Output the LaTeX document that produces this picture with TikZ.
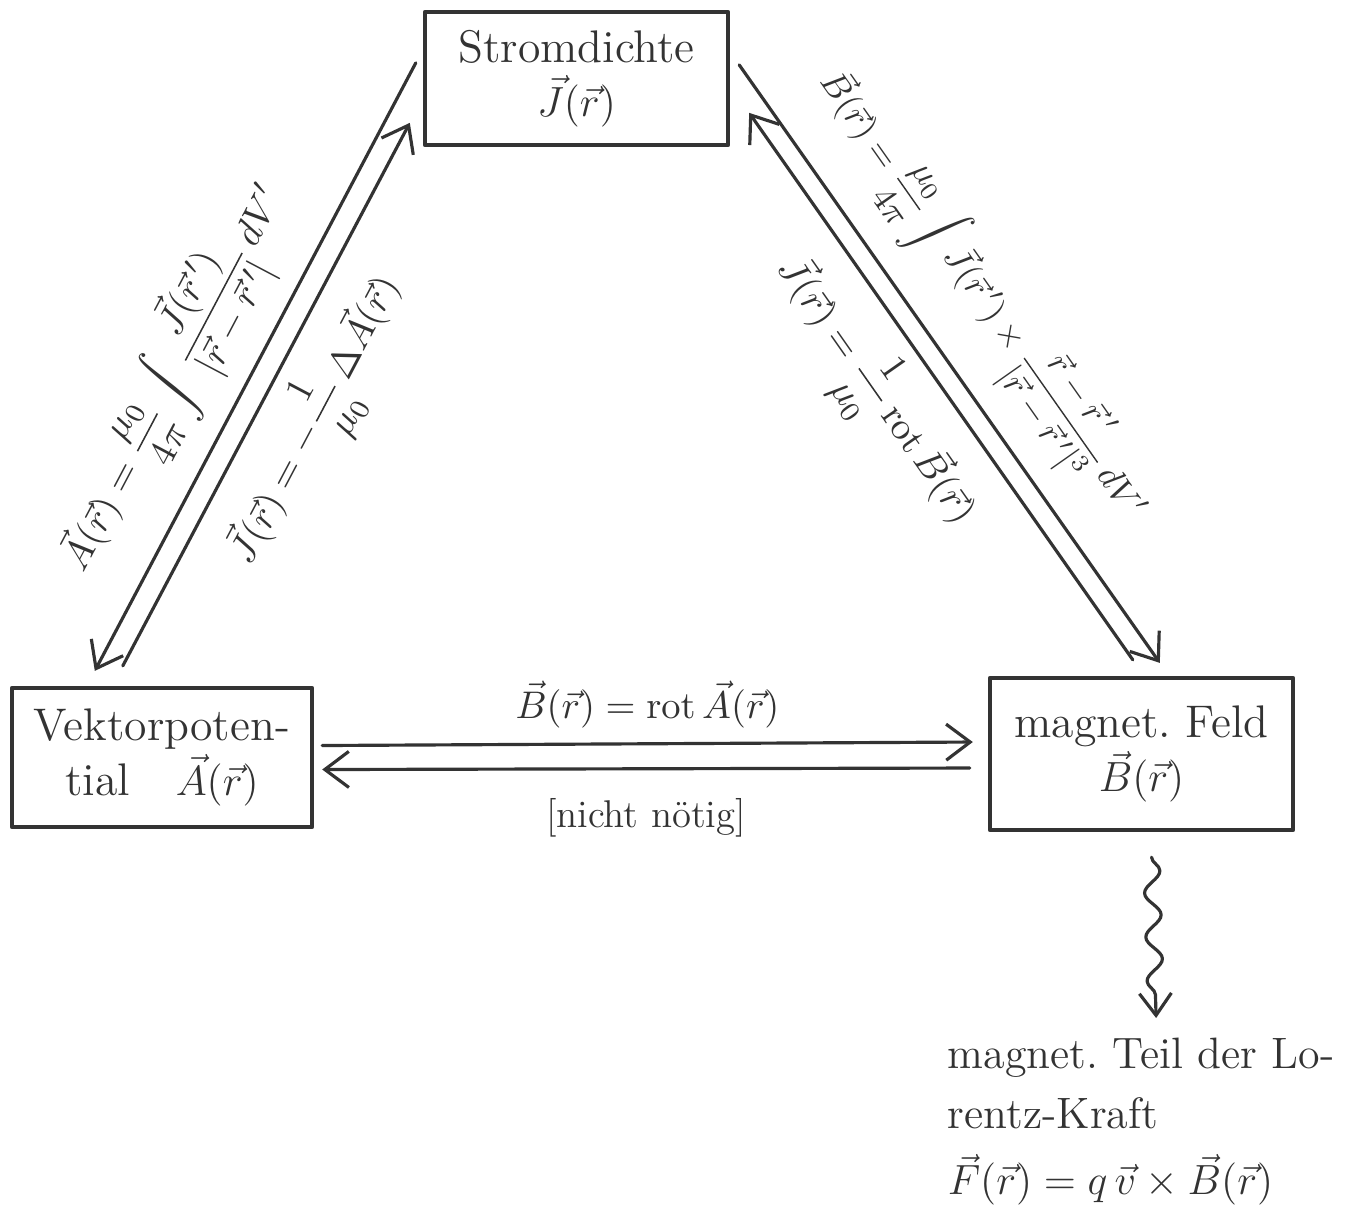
\documentclass[tikz,border=0pt]{standalone}
\usepackage{amsmath,amssymb}
\usepackage{xcolor}
\usepackage{tikz}
\usetikzlibrary{arrows.meta,positioning,calc,decorations.pathmorphing}
\definecolor{pen}{HTML}{333333}
\newcommand{\vecr}{\vec r}
\tikzset{
    every picture/.style={line cap=round,line join=round},
    quantbox/.style={draw=pen,line width=1.2pt,inner sep=3pt,align=center,
      text=pen,font=\fontsize{13}{15.5}\selectfont},
    relarrow/.style={-{Straight Barb[length=2.4mm,width=3.6mm]},draw=pen,
      line width=0.9pt},
    rellabel/.style={text=pen,inner sep=2pt,font=\fontsize{11}{13}\selectfont},
    wavearrow/.style={-{Straight Barb[length=2.2mm,width=3.2mm]},draw=pen,
      line width=0.9pt,decorate,
      decoration={snake,amplitude=0.8mm,segment length=4.4mm,post length=2mm}}
}
\begin{document}
\begin{tikzpicture}[x=0.01cm,y=-0.01cm]
  \useasboundingbox (0,0) rectangle (1358,1229);
  % the three fields
  \node[quantbox,minimum width=3.03cm,minimum height=1.33cm] (J) at (576.5,78.5)
    {Stromdichte\\ $\vec J(\vecr)$};
  \node[quantbox,minimum width=3.00cm,minimum height=1.39cm] (A) at (162,757.5)
    {Vektorpoten-\\ tial\quad $\vec A(\vecr)$};
  \node[quantbox,minimum width=3.03cm,minimum height=1.52cm] (B) at (1141.5,754)
    {magnet.\ Feld\\ $\vec B(\vecr)$};
  \node[rellabel,anchor=north west,align=left,font=\fontsize{12.5}{17}\selectfont] (F) at (940,1030)
    {magnet.\ Teil der Lo-\\ rentz-Kraft\\[2pt] $\vec F(\vecr) = q\,\vec v\times\vec B(\vecr)$};
  % J <-> A
  \draw[relarrow] ($(J.north west)+(-7,53)$) -- ($(A.north west)+(85,-15)$)
    node[rellabel,pos=0.57,sloped,above=3pt]
    {$\displaystyle \vec A(\vecr) = \frac{\mu_0}{4\pi}\int\frac{\vec J(\vecr\,')}{|\vecr-\vecr\,'|}\,dV'$};
  \draw[relarrow] ($(A.north west)+(113,-20)$) -- ($(J.north west)+(-13,113)$)
    node[rellabel,midway,sloped,below=2pt]
    {$\displaystyle \vec J(\vecr) = -\frac{1}{\mu_0}\,\Delta\vec A(\vecr)$};
  % J <-> B
  \draw[relarrow] ($(J.north east)+(9,55)$) -- ($(B.north west)+(172,-13)$)
    node[rellabel,pos=0.45,sloped,above=4pt,font=\fontsize{10}{12}\selectfont]
    {$\displaystyle \vec B(\vecr) = \frac{\mu_0}{4\pi}\int\vec J(\vecr\,')\times\frac{\vecr-\vecr\,'}{|\vecr-\vecr\,'|^3}\,dV'$};
  \draw[relarrow] ($(B.north west)+(145,-16)$) -- ($(J.north east)+(19,103)$)
    node[rellabel,pos=0.55,sloped,below=2pt]
    {$\displaystyle \vec J(\vecr) = \frac{1}{\mu_0}\,\mathrm{rot}\,\vec B(\vecr)$};
  % A <-> B
  \draw[relarrow] ($(A.east)+(8,-12)$) -- ($(B.west)+(-15,-12)$)
    node[rellabel,midway,above=2pt] {$\vec B(\vecr) = \mathrm{rot}\,\vec A(\vecr)$};
  \draw[relarrow] ($(B.west)+(-18,14)$) -- ($(A.east)+(8,12)$)
    node[rellabel,midway,below=6pt] {[nicht n\"otig]};
  % B -> force
  \draw[wavearrow] ($(B.south)+(10,25)$) -- ($(F.north)+(15,-12)$);
\end{tikzpicture}
\end{document}
